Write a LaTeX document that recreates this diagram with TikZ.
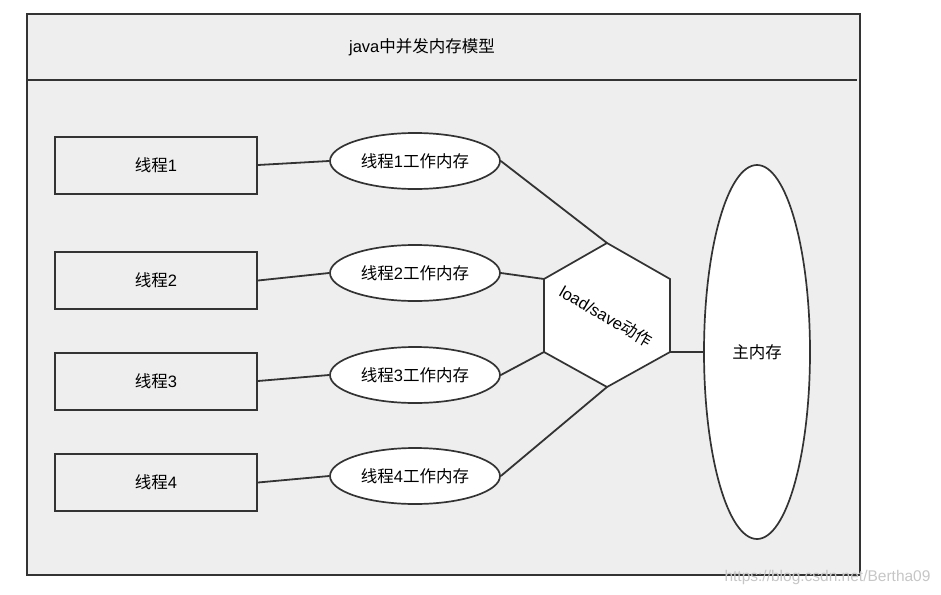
\documentclass[tikz,border=0pt]{standalone}
\usepackage{fontspec}
\setmainfont{Liberation Sans}
\newfontfamily\cjk{Noto Sans CJK SC}
\usetikzlibrary{shapes.geometric}
\definecolor{bgc}{HTML}{EEEEEE}
\definecolor{linec}{HTML}{333333}
\tikzset{
  lbl/.style={font=\fontsize{16.5}{19}\selectfont},
  conn/.style={draw=linec, line width=1.8pt},
  threadbox/.style={draw=linec, line width=2pt, minimum width=202pt, minimum height=57pt, inner sep=0pt, lbl},
  workmem/.style={ellipse, draw=linec, fill=white, line width=1.7pt, minimum width=170pt, minimum height=56pt, inner sep=0pt, lbl},
}
\begin{document}
\begin{tikzpicture}[x=1pt,y=-1pt]
\useasboundingbox (0,0) rectangle (941,594);
% frame
\draw[draw=linec, line width=2.2pt, fill=bgc] (27,14) rectangle (860,575);
\draw[draw=linec, line width=2.2pt] (27,80) -- (857,80);
\node[lbl] (title) at (422,47) {java{\cjk 中并发内存模型}};
% threads
\node[threadbox] (b1) at (156,165) {{\cjk 线程}1};
\node[threadbox] (b2) at (156,280.5) {{\cjk 线程}2};
\node[threadbox] (b3) at (156,381) {{\cjk 线程}3};
\node[threadbox] (b4) at (156,482.5) {{\cjk 线程}4};
% work memories
\node[workmem] (e1) at (415,161) {{\cjk 线程}1{\cjk 工作内存}};
\node[workmem] (e2) at (415,273) {{\cjk 线程}2{\cjk 工作内存}};
\node[workmem] (e3) at (415,375) {{\cjk 线程}3{\cjk 工作内存}};
\node[workmem] (e4) at (415,476) {{\cjk 线程}4{\cjk 工作内存}};
% hexagon
\coordinate (h1) at (607,243);
\coordinate (h2) at (670,279);
\coordinate (h3) at (670,352);
\coordinate (h4) at (607,387);
\coordinate (h5) at (544,352);
\coordinate (h6) at (544,279);
\draw[draw=linec, line width=1.7pt, fill=white] (h1) -- (h2) -- (h3) -- (h4) -- (h5) -- (h6) -- cycle;
\node[rotate=-30, lbl] (act) at (606,316) {load/save{\cjk 动作}};
% main memory
\node[ellipse, draw=linec, fill=white, line width=1.7pt, minimum width=106pt, minimum height=374pt, inner sep=0pt, lbl] (main) at (757,352) {{\cjk 主内存}};
% connectors
\draw[conn] (b1.east) -- (e1.west);
\draw[conn] (b2.east) -- (e2.west);
\draw[conn] (b3.east) -- (e3.west);
\draw[conn] (b4.east) -- (e4.west);
\draw[conn] (e1.east) -- (h1);
\draw[conn] (e2.east) -- (h6);
\draw[conn] (e3.east) -- (h5);
\draw[conn] (e4.east) -- (h4);
\draw[conn] (h3) -- (main.west);
% watermark
\node[text=gray!45, font=\fontsize{15.5}{18}\selectfont, anchor=west] (wm) at (721,577) {https://blog.csdn.net/Bertha09};
\end{tikzpicture}
\end{document}
